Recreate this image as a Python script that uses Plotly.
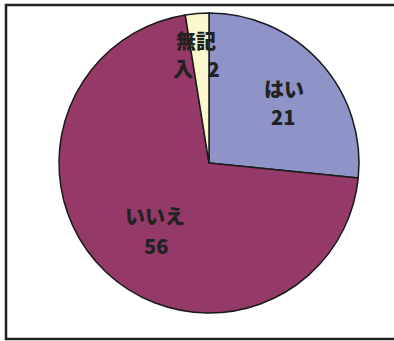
import plotly.graph_objects as go

labels = ["はい", "いいえ", "無記入"]
values = [21, 56, 2]
colors = ["#8E94C8", "#953A68", "#FAF8CC"]

W, H = 394, 341

def px(x):
    return x / W

def py(y):
    return 1 - y / H

fig = go.Figure()
fig.add_trace(go.Pie(
    labels=labels, values=values, sort=False, direction="clockwise", rotation=0,
    marker=dict(colors=colors, line=dict(color="#1a1a1a", width=1.5)),
    textinfo="none", hoverinfo="label+value", showlegend=False,
    domain=dict(x=[px(59), px(359)], y=[py(313), py(13)]),
))

font = dict(family="Noto Sans CJK JP", size=20, color="#222222", weight=900)
texts = [
    ("はい", 284, 88), ("21", 283, 117),
    ("いいえ", 155, 215), ("56", 156, 245),
    ("無記", 196, 40), ("入\u2002 2", 196, 68),
]
for t, x, y in texts:
    fig.add_annotation(text=t, x=px(x), y=py(y), xref="paper", yref="paper",
                       showarrow=False, font=font, xanchor="center", yanchor="middle")

fig.add_shape(type="rect", xref="paper", yref="paper",
              x0=px(6), x1=px(400), y0=py(339), y1=py(5),
              line=dict(color="#222222", width=2.5))

fig.update_layout(width=W, height=H, margin=dict(l=0, r=0, t=0, b=0),
                  paper_bgcolor="white", plot_bgcolor="white")
fig.write_html("out.html", config={"displayModeBar": False},
               post_script="document.body.style.margin='0';document.body.style.overflow='hidden';")
